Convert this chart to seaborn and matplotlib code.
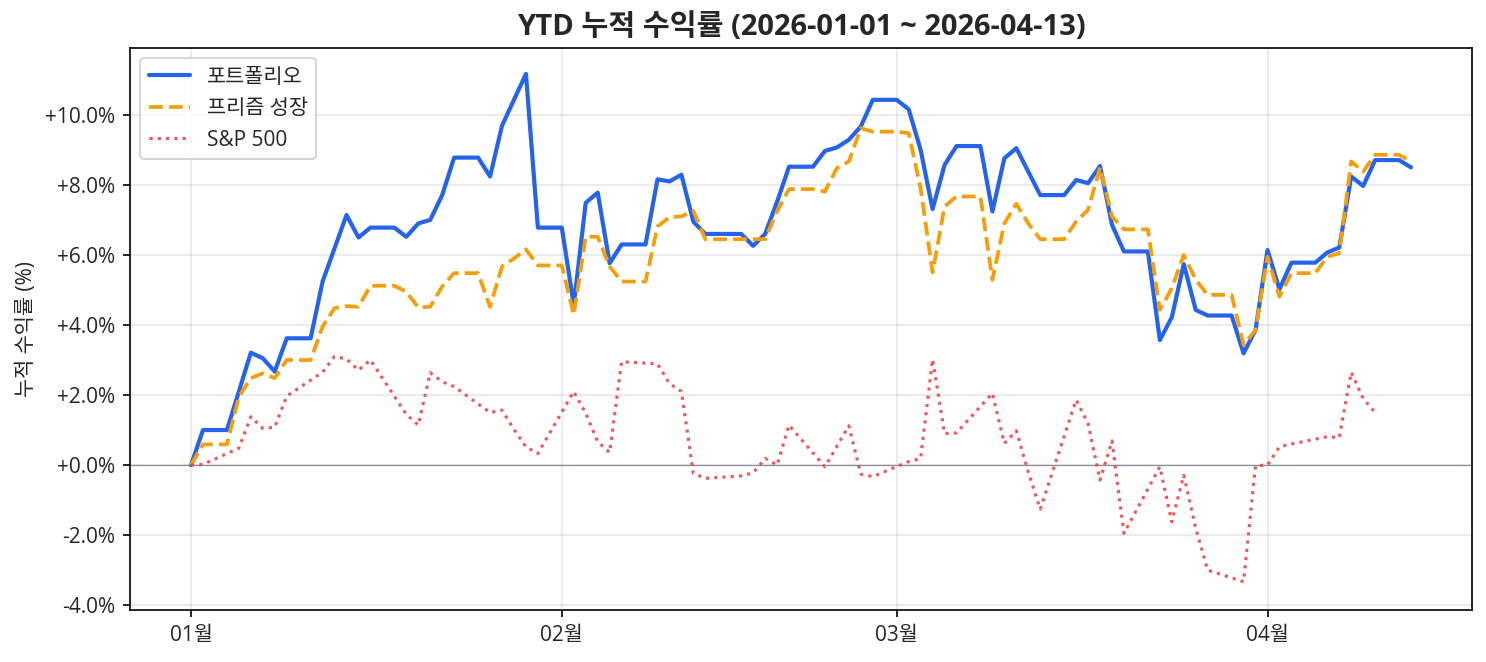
import numpy as np
import pandas as pd
import matplotlib
matplotlib.use("Agg")
import matplotlib.pyplot as plt
import matplotlib.dates as mdates
from matplotlib.ticker import FuncFormatter, MultipleLocator
import seaborn as sns

# business days, values in % (cumulative return)
start_date = "2026-01-01"
end_date = "2026-04-13"

portfolio = [0, 1.0, 2.1, 3.21, 3.05, 2.67, 3.62, 5.24, 6.19, 7.14, 6.5, 6.78, 6.52, 6.9, 7.0, 7.71, 8.78, 8.24, 9.69, 10.43, 11.17, 6.78,
             4.57, 7.49, 7.78, 5.76, 6.3, 8.16, 8.1, 8.29, 6.95, 6.6, 6.6, 6.26, 6.6, 7.52, 8.52, 8.97, 9.07, 9.29, 9.67, 10.43,
             10.16, 9.0, 7.31, 8.57, 9.11, 7.24, 8.76, 9.05, 8.38, 7.71, 8.14, 8.05, 8.54, 6.86, 6.1, 3.57, 4.22, 5.74, 4.43, 4.27, 3.19, 3.86,
             6.14, 5.02, 5.78, 6.07, 6.21, 8.24, 7.97, 8.71, 8.5]

prism = [0, 0.59, 1.95, 2.48, 2.62, 2.48, 3.0, 3.95, 4.48, 4.54, 4.52, 5.12, 4.95, 4.5, 4.52, 5.1, 5.48, 4.52, 5.67, 5.9, 6.16, 5.7,
         4.29, 6.52, 6.52, 5.67, 5.24, 6.81, 7.08, 7.1, 7.26, 6.45, 6.45, 6.45, 6.45, 7.25, 7.88, 7.81, 8.48, 8.67, 9.62, 9.52,
         9.48, 7.9, 5.5, 7.38, 7.67, 5.29, 6.9, 7.46, 6.9, 6.45, 6.95, 7.29, 8.5, 7.1, 6.73, 4.43, 5.05, 6.0, 5.29, 4.86, 3.43, 3.86,
         5.95, 4.81, 5.48, 5.95, 6.05, 8.67, 8.38, 8.86, 8.67]

sp500 = [0, 0.02, 0.48, 1.38, 1.05, 1.08, 1.97, 2.65, 3.1, 3.03, 2.71, 3.0, 1.45, 1.14, 2.64, 2.38, 2.24, 1.5, 1.57, 1.02, 0.52, 0.33,
         2.1, 1.48, 0.67, 0.36, 2.95, 2.89, 2.33, 2.1, -0.24, -0.38, -0.31, -0.22, 0.19, 0.0, 1.14, -0.05, 0.54, 1.12, -0.26, -0.33,
         0.1, 0.19, 3.02, 0.9, 0.92, 2.05, 0.62, 0.98, -0.2, -1.26, 1.86, 1.19, -0.43, 0.69, -1.95, -0.05, -1.62, -0.29, -1.8, -3.0, -3.33, -0.02,
         0.0, 0.52, 0.6, 0.81, 0.78, 2.65, 1.9, 1.5]

bdays = pd.bdate_range(start_date, end_date)
all_days = pd.date_range(start_date, end_date, freq="D")

# portfolio values are carried over weekends
df = pd.DataFrame({"포트폴리오": portfolio, "프리즘 성장": prism}, index=bdays)
df = df.reindex(all_days).ffill()
df.index.name = "date"
df = df.reset_index()

sp = pd.DataFrame({"date": bdays[:len(sp500)], "S&P 500": sp500})

sns.set_style("white")
plt.rcParams['font.family'] = ['Open Sans', 'Noto Sans CJK KR', 'DejaVu Sans']
plt.rcParams['axes.unicode_minus'] = False

fig, ax = plt.subplots(figsize=(1486 / 150, 662 / 150), dpi=150)

sns.lineplot(data=df, x="date", y="포트폴리오", ax=ax, color="#2563eb", linewidth=2.0, label="포트폴리오")
sns.lineplot(data=df, x="date", y="프리즘 성장", ax=ax, color="#f59e0b", linewidth=1.8,
             linestyle="--", label="프리즘 성장")
sns.lineplot(data=sp, x="date", y="S&P 500", ax=ax, color="#ef4444", linewidth=1.5,
             linestyle=":", alpha=0.9, label="S&P 500")

ax.axhline(0, color="#8a8f98", linewidth=0.6, zorder=1)

ax.set_ylim(-4.14, 11.91)
ax.yaxis.set_major_locator(MultipleLocator(2))
ax.yaxis.set_major_formatter(FuncFormatter(lambda v, _: f"{v:+.1f}%"))
ax.xaxis.set_major_locator(mdates.MonthLocator())
ax.xaxis.set_major_formatter(mdates.DateFormatter("%m월"))

ax.grid(True, color="#b0b0b0", alpha=0.3, linewidth=0.8)
ax.tick_params(axis="both", labelsize=10, length=3.5, color="black", left=True, bottom=True)
for s in ax.spines.values():
    s.set_color("black")
    s.set_linewidth(0.8)

ax.set_xlabel("")
ax.set_ylabel("누적 수익률 (%)", fontsize=10)
ax.set_title("YTD 누적 수익률 (2026-01-01 ~ 2026-04-13)", fontsize=14, fontweight="bold", pad=6)
ax.legend(loc="upper left", fontsize=10, frameon=True)

fig.subplots_adjust(left=0.0875, right=0.9906, top=0.9275, bottom=0.0785)
fig.savefig("out.png", dpi=150)
